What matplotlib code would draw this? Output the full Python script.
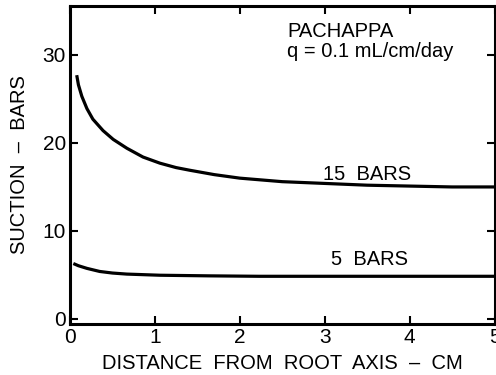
import matplotlib
matplotlib.use("Agg")
import matplotlib.pyplot as plt

plt.rcParams['font.family'] = ['Liberation Sans', 'DejaVu Sans']

# Data
x15 = [0.08, 0.10, 0.14, 0.20, 0.27, 0.39, 0.51, 0.67, 0.86, 1.06, 1.25, 1.41,
       1.7, 2.0, 2.5, 3.0, 3.5, 4.0, 4.5, 5.0]
y15 = [27.7, 26.6, 25.3, 23.9, 22.7, 21.4, 20.4, 19.4, 18.4, 17.7, 17.2, 16.9,
       16.4, 16.0, 15.6, 15.4, 15.2, 15.1, 15.0, 15.0]
x5 = [0.04, 0.10, 0.20, 0.35, 0.50, 0.67, 1.06, 1.64, 2.23, 3.0, 4.0, 5.0]
y5 = [6.3, 6.05, 5.75, 5.4, 5.22, 5.1, 4.97, 4.9, 4.85, 4.85, 4.85, 4.85]
xticks = [0, 1, 2, 3, 4, 5]
yticks = [0, 10, 20, 30]

fig = plt.figure(figsize=(4.96, 3.75), dpi=100)
ax = fig.add_axes([0.141, 0.136, 0.856, 0.849])

ax.plot(x15, y15, color='black', lw=2.3, solid_joinstyle='round', solid_capstyle='butt')
ax.plot(x5, y5, color='black', lw=2.3, solid_joinstyle='round', solid_capstyle='butt')

ax.set_xlim(0, 5)
ax.set_ylim(-0.57, 35.6)
ax.set_xticks(xticks)
ax.set_yticks(yticks)
ax.tick_params(direction='in', length=6, width=1.5, labelsize=15, top=True, right=True, pad=3)
for s in ax.spines.values():
    s.set_linewidth(2.2)

ax.set_xlabel('DISTANCE  FROM  ROOT  AXIS  \u2013  CM', fontsize=14.5, labelpad=5)
ax.set_ylabel('SUCTION  \u2013  BARS', fontsize=14.5, labelpad=10)

ax.text(2.98, 16.45, '15  BARS', fontsize=14.5, va='center', ha='left')
ax.text(3.07, 6.8, '5  BARS', fontsize=14.5, va='center', ha='left')
ax.text(2.56, 31.5, 'PACHAPPA\nq = 0.1 mL/cm/day', fontsize=14.5, va='center', ha='left', linespacing=1.1)

fig.savefig('out.png', dpi=100)
